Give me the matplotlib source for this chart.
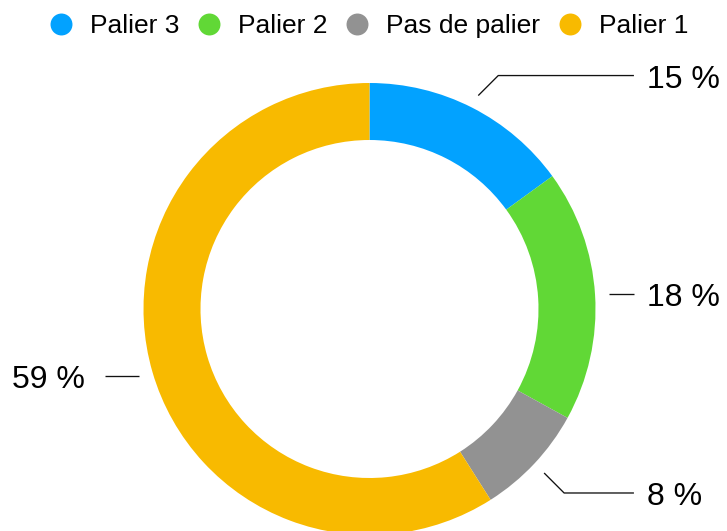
import numpy as np
import matplotlib.pyplot as plt
from matplotlib.lines import Line2D

plt.rcParams['font.family'] = ['Liberation Sans', 'DejaVu Sans']

# data (clockwise from 12 o'clock)
categories = ["Palier 3", "Palier 2", "Pas de palier", "Palier 1"]
shares = [15, 18, 8, 59]
labels = ["15 %", "18 %", "8 %", "59 %"]
colors = ["#02A2FF", "#61D836", "#929292", "#F8BA00"]

W, H = 727, 531
fig = plt.figure(figsize=(W / 100, H / 100), dpi=100)
ax = fig.add_axes([0, 0, 1, 1])

# ring geometry in pixel units
cx, cy, R = 369.5, H - 309, 226
ax.pie(shares, colors=colors, radius=R, center=(cx, cy), startangle=90,
       counterclock=False, wedgeprops=dict(width=57, linewidth=0))
ax.set_xlim(0, W)
ax.set_ylim(0, H)
ax.set_aspect('equal')
ax.axis('off')

# leader lines + percentage labels
cum = np.cumsum([0] + shares)
for i, lab in enumerate(labels):
    mid = (cum[i] + cum[i + 1]) / 2 / 100 * 2 * np.pi
    sx, sy = np.sin(mid), np.cos(mid)
    side = 1 if sx > 0 else -1
    x0, y0 = cx + 1.06 * R * sx, cy + 1.06 * R * sy
    xend = cx + side * 1.17 * R
    if abs(sy) < 0.3:
        xs, ys = [x0, xend], [y0, y0]
    else:
        x1, y1 = x0 + side * 20, y0 + np.sign(sy) * 20
        xs, ys = [x0, x1, xend], [y0, y1, y1]
    ax.plot(xs, ys, color='#111111', lw=0.95, solid_capstyle='butt')
    if side > 0:
        ax.text(xend + 13, ys[-1] - 1, lab, ha='left', va='center_baseline', fontsize=23)
    else:
        ax.text(xend - 20, ys[-1] - 1, lab, ha='right', va='center_baseline', fontsize=23)

# legend
handles = [Line2D([], [], marker='o', linestyle='none', markersize=15.8,
                  markerfacecolor=c, markeredgewidth=0) for c in colors]
fig.legend(handles, categories, loc='center', ncol=4, frameon=False,
           bbox_to_anchor=(368 / W, 1 - 26 / H), fontsize=19,
           handlelength=1.0, handletextpad=0.6, columnspacing=0.62,
           borderpad=0.0)

fig.savefig('out.png', dpi=100)
